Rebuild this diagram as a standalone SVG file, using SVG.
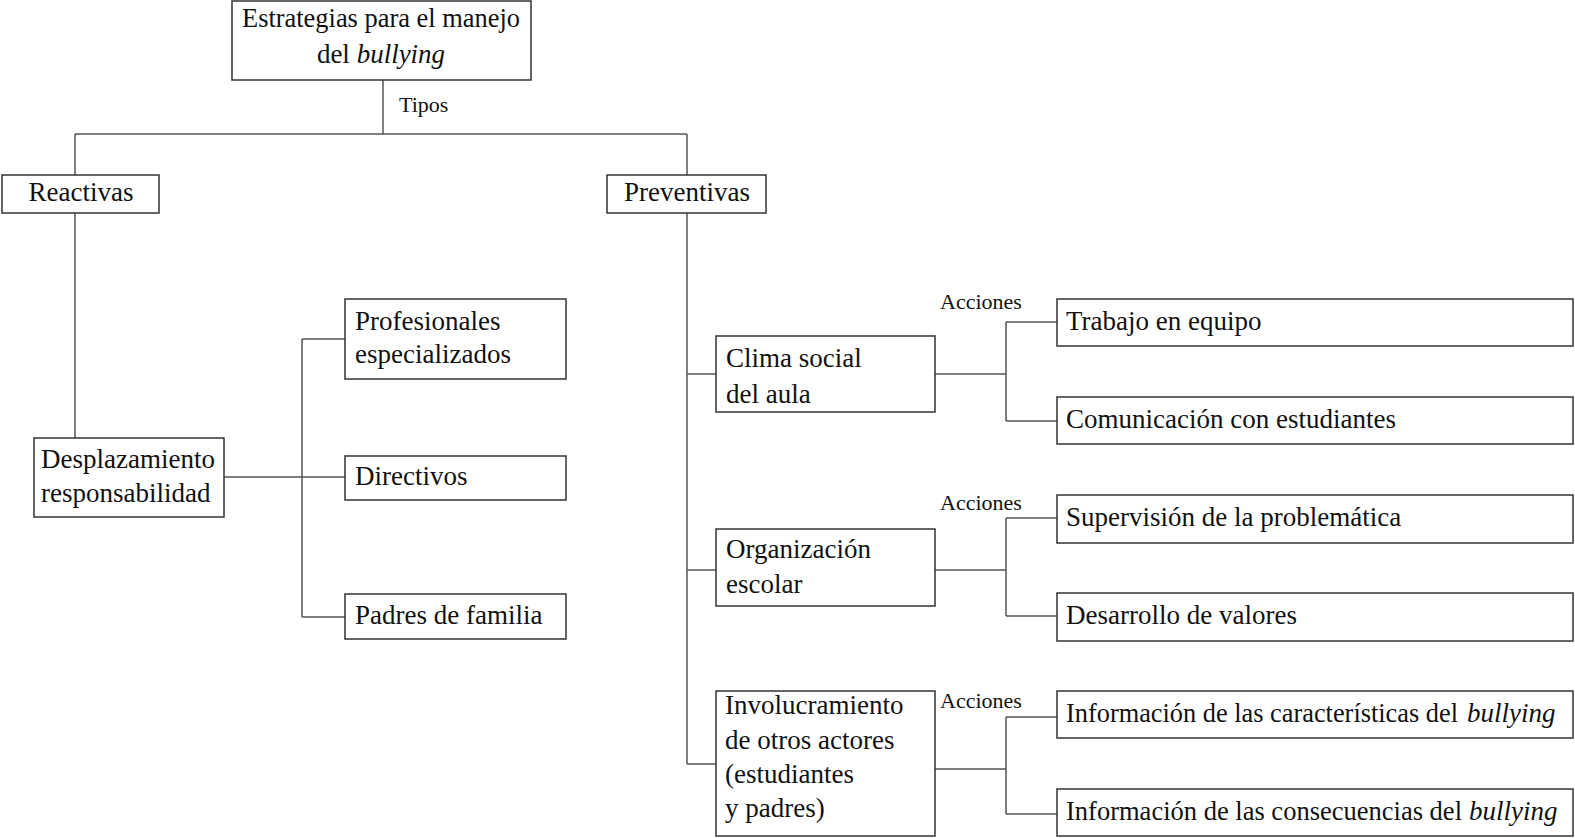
<svg xmlns="http://www.w3.org/2000/svg" width="1575" height="838" viewBox="0 0 1575 838">
<style>
.box{fill:#fff;stroke:#333;stroke-width:1.5}
.ln{fill:none;stroke:#555;stroke-width:1.5}
text{font-family:"Liberation Serif","DejaVu Serif",serif;font-size:27px;fill:#111}
.c{text-anchor:middle}
.s{font-size:22px}
.i{font-style:italic}
</style>
<rect width="1575" height="838" fill="#fff"/>
<g id="connectors">
<path class="ln" d="M383 80V134M75 134H687M75 134V175M687 134V175"/>
<path class="ln" d="M75 213V438"/>
<path class="ln" d="M224 477H345M302 339V617M302 339H345M302 617H345"/>
<path class="ln" d="M687 213V764M687 374H716M687 570H716M687 764H716"/>
<path class="ln" d="M935 374H1006M1006 322V421M1006 322H1057M1006 421H1057"/>
<path class="ln" d="M935 570H1006M1006 518V616M1006 518H1057M1006 616H1057"/>
<path class="ln" d="M935 769H1006M1006 717V814M1006 717H1057M1006 814H1057"/>
<text class="s" x="399" y="112">Tipos</text>
<text class="s" x="940" y="309">Acciones</text>
<text class="s" x="940" y="510">Acciones</text>
<text class="s" x="940" y="708">Acciones</text>
</g>
<g id="root"><rect class="box" x="232" y="1" width="299" height="79"/>
<text class="c" x="381" y="27" textLength="278" lengthAdjust="spacingAndGlyphs">Estrategias para el manejo</text>
<text class="c" x="381" y="63">del <tspan class="i">bullying</tspan></text></g>
<g id="reactivas"><rect class="box" x="2" y="175" width="157" height="38"/><text class="c" x="81" y="201">Reactivas</text></g>
<g id="preventivas"><rect class="box" x="607" y="175" width="159" height="38"/><text class="c" x="687" y="201">Preventivas</text></g>
<g id="desplazamiento"><rect class="box" x="34" y="438" width="190" height="79"/>
<text x="41" y="468">Desplazamiento</text><text x="41" y="502">responsabilidad</text></g>
<g id="profesionales"><rect class="box" x="345" y="299" width="221" height="80"/>
<text x="355" y="330">Profesionales</text><text x="355" y="363">especializados</text></g>
<g id="directivos"><rect class="box" x="345" y="456" width="221" height="44"/><text x="355" y="485">Directivos</text></g>
<g id="padres"><rect class="box" x="345" y="594" width="221" height="45"/><text x="355" y="624">Padres de familia</text></g>
<g id="clima"><rect class="box" x="716" y="336" width="219" height="76"/>
<text x="726" y="367">Clima social</text><text x="726" y="403">del aula</text></g>
<g id="organizacion"><rect class="box" x="716" y="529" width="219" height="77"/>
<text x="726" y="558">Organización</text><text x="726" y="593">escolar</text></g>
<g id="involucramiento"><rect class="box" x="716" y="691" width="219" height="145"/>
<text x="725" y="714">Involucramiento</text><text x="725" y="749">de otros actores</text><text x="725" y="783">(estudiantes</text><text x="725" y="817">y padres)</text></g>
<g id="trabajo"><rect class="box" x="1057" y="299" width="516" height="47"/><text x="1066" y="330">Trabajo en equipo</text></g>
<g id="comunicacion"><rect class="box" x="1057" y="397" width="516" height="47"/><text x="1066" y="428">Comunicación con estudiantes</text></g>
<g id="supervision"><rect class="box" x="1057" y="495" width="516" height="48"/><text x="1066" y="526">Supervisión de la problemática</text></g>
<g id="desarrollo"><rect class="box" x="1057" y="593" width="516" height="48"/><text x="1066" y="624">Desarrollo de valores</text></g>
<g id="info1"><rect class="box" x="1057" y="691" width="516" height="47"/>
<text x="1066" y="722" textLength="392" lengthAdjust="spacingAndGlyphs">Información de las características del</text>
<text class="i" x="1467" y="722">bullying</text></g>
<g id="info2"><rect class="box" x="1057" y="789" width="516" height="47"/>
<text x="1066" y="820" textLength="396" lengthAdjust="spacingAndGlyphs">Información de las consecuencias del</text>
<text class="i" x="1469" y="820">bullying</text></g>
</svg>
